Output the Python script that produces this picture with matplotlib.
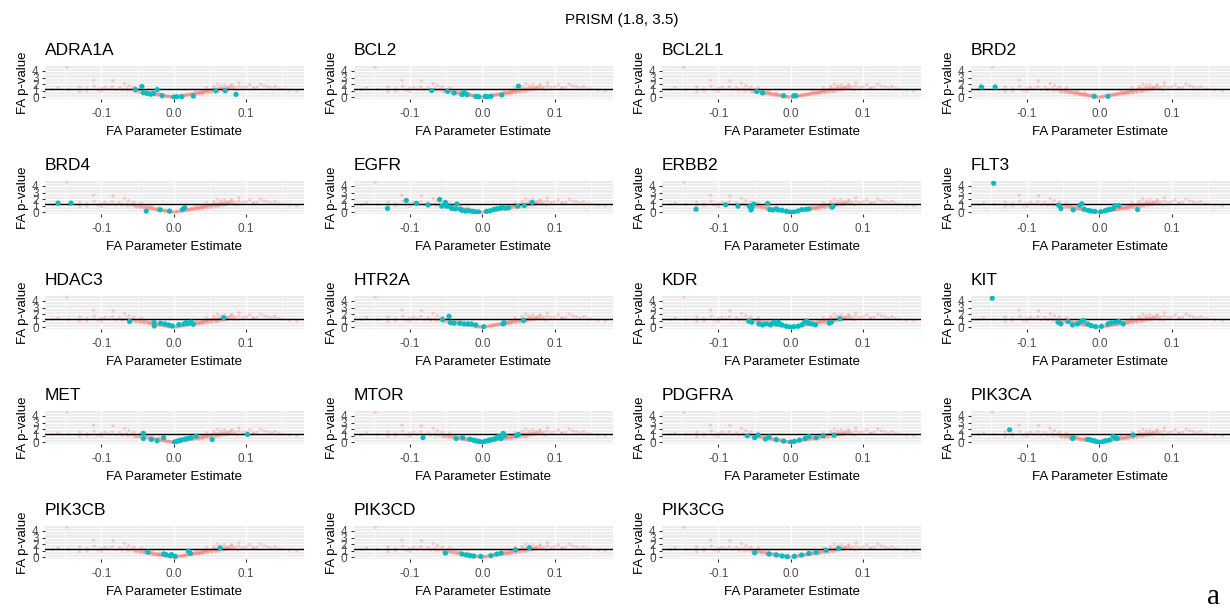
import matplotlib
matplotlib.use('Agg')
import matplotlib.pyplot as plt
from matplotlib.ticker import MultipleLocator

plt.rcParams['font.family'] = ['Liberation Sans', 'DejaVu Sans']

# background cloud (all compounds)
red_x = [-0.060, -0.058, -0.055, -0.053, -0.050, -0.048, -0.046, -0.045, -0.043, -0.042,
         -0.040, -0.039, -0.037, -0.036, -0.035, -0.033, -0.032, -0.031, -0.030, -0.028,
         -0.027, -0.026, -0.025, -0.023, -0.022, -0.021, -0.020, -0.018, -0.017, -0.016,
         -0.015, -0.013, -0.012, -0.011, -0.010, -0.008, -0.007, -0.006, -0.005, -0.003,
         -0.002, 0.000, 0.002, 0.003, 0.005, 0.006, 0.008, 0.009, 0.010, 0.012,
         0.013, 0.014, 0.016, 0.017, 0.018, 0.020, 0.021, 0.022, 0.024, 0.025,
         0.026, 0.028, 0.029, 0.030, 0.032, 0.033, 0.034, 0.036, 0.037, 0.038,
         0.040, 0.041, 0.042, 0.044, 0.045, 0.046, 0.048, 0.050, 0.051, 0.053,
         0.055, 0.056, 0.058, 0.060, 0.062, 0.064, 0.066, 0.068, 0.070, 0.072,
         0.075, 0.078,
         -0.020, -0.030, -0.045, -0.055, -0.065, -0.070, -0.075, -0.080, -0.085, -0.090,
         -0.095, -0.100, -0.105, -0.110, -0.120, -0.130, -0.145, -0.160, -0.148, -0.111,
         -0.084, -0.167, -0.130, -0.120, -0.100, -0.068, -0.062,
         0.030, 0.045, 0.055, 0.065, 0.070, 0.075, 0.080, 0.085, 0.090, 0.095,
         0.100, 0.105, 0.110, 0.115, 0.125, 0.135, 0.140, 0.150, 0.160, 0.170,
         0.120, 0.130, 0.090, 0.060, 0.080, 0.110, 0.145, 0.052, 0.047, 0.062,
         0.035, 0.040, 0.058, 0.068, 0.073, 0.083, 0.088,
         -0.052, -0.047, -0.041, -0.034, -0.029, -0.024, -0.019, -0.014, -0.009, -0.004,
         0.004, 0.011, 0.015, 0.019, 0.023, 0.027, 0.031, 0.035, 0.039, 0.043,
         0.047, 0.052, 0.057, 0.061, 0.065, 0.071, 0.076, 0.081, -0.064, -0.072]
red_y = [1.10, 1.25, 0.95, 1.05, 0.90, 1.15, 0.85, 1.00, 0.80, 0.95,
         0.75, 0.90, 0.70, 0.85, 0.65, 0.75, 0.60, 0.70, 0.55, 0.62,
         0.50, 0.58, 0.45, 0.52, 0.40, 0.48, 0.36, 0.42, 0.32, 0.38,
         0.28, 0.30, 0.22, 0.26, 0.18, 0.20, 0.14, 0.16, 0.10, 0.08,
         0.05, 0.03, 0.06, 0.09, 0.12, 0.15, 0.18, 0.22, 0.20, 0.26,
         0.28, 0.32, 0.35, 0.38, 0.36, 0.44, 0.42, 0.50, 0.48, 0.55,
         0.52, 0.60, 0.58, 0.66, 0.64, 0.70, 0.75, 0.72, 0.80, 0.85,
         0.82, 0.90, 0.95, 0.92, 1.00, 1.05, 1.10, 1.02, 1.15, 1.20,
         1.10, 1.25, 1.30, 1.20, 1.35, 1.28, 1.40, 1.32, 1.45, 1.38,
         1.50, 1.42,
         0.70, 0.95, 1.40, 1.55, 1.30, 1.20, 1.45, 1.15, 1.60, 1.25,
         1.50, 1.35, 1.10, 1.70, 1.30, 1.55, 1.20, 1.40, 4.55, 2.60,
         2.50, 1.20, 0.90, 1.00, 0.90, 2.10, 1.80,
         1.00, 1.45, 1.65, 1.75, 1.90, 1.60, 1.80, 1.55, 1.70, 1.45,
         1.60, 1.90, 1.35, 1.50, 1.75, 1.40, 1.65, 1.25, 1.10, 1.00,
         2.00, 1.60, 2.20, 2.00, 1.85, 1.40, 1.30, 0.75, 0.70, 0.95,
         0.55, 0.60, 0.85, 1.05, 1.15, 1.25, 1.10,
         0.80, 0.72, 0.62, 0.50, 0.44, 0.34, 0.26, 0.20, 0.12, 0.06,
         0.07, 0.15, 0.22, 0.30, 0.36, 0.42, 0.50, 0.56, 0.62, 0.70,
         0.78, 0.86, 0.95, 1.02, 1.10, 1.20, 1.28, 1.35, 1.00, 1.10]

genes = ['ADRA1A', 'BCL2', 'BCL2L1', 'BRD2', 'BRD4', 'EGFR', 'ERBB2', 'FLT3',
         'HDAC3', 'HTR2A', 'KDR', 'KIT', 'MET', 'MTOR', 'PDGFRA', 'PIK3CA',
         'PIK3CB', 'PIK3CD', 'PIK3CG']

# target compounds per gene: (estimate, -log10 p)
adra1a_x = [-0.053, -0.044, -0.042, -0.037, -0.032, -0.028, -0.023, -0.016, 0.000, 0.004, 0.011, 0.027, 0.058, 0.071, 0.086]
adra1a_y = [1.18, 1.65, 0.71, 0.59, 0.47, 0.59, 1.18, 0.25, 0.05, 0.10, 0.10, 0.20, 1.00, 1.00, 0.45]
bcl2_x = [-0.070, -0.048, -0.039, -0.028, -0.025, -0.021, -0.009, -0.005, 0.004, 0.007, 0.012, 0.027, 0.050]
bcl2_y = [1.03, 0.92, 0.67, 0.41, 0.77, 0.41, 0.15, 0.10, 0.15, 0.10, 0.15, 0.36, 1.69]
bcl2l1_x = [-0.047, -0.039, -0.010, 0.004, 0.007]
bcl2l1_y = [0.90, 0.67, 0.24, 0.24, 0.24]
brd2_x = [-0.163, -0.144, -0.007, 0.012]
brd2_y = [1.58, 1.58, 0.16, 0.16]
brd4_x = [-0.160, -0.142, -0.038, -0.019, -0.006, 0.012, 0.015]
brd4_y = [1.40, 1.40, 0.19, 0.39, 0.19, 0.43, 0.72]
egfr_x = [-0.131, -0.105, -0.091, -0.075, -0.059, -0.051, -0.056, -0.049, -0.044, -0.035,
          -0.042, -0.037, -0.030, -0.028, -0.023, -0.019, -0.014, -0.010, -0.005, 0.006,
          0.011, 0.016, 0.020, 0.025, 0.027, 0.032, 0.036, 0.049, 0.058, 0.069]
egfr_y = [0.59, 1.80, 1.37, 1.12, 1.95, 1.51, 0.93, 0.93, 0.83, 1.27,
          0.59, 0.54, 0.44, 0.29, 0.20, 0.24, 0.15, 0.10, 0.05, 0.15,
          0.24, 0.44, 0.54, 0.63, 0.78, 0.63, 0.68, 0.93, 1.02, 1.51]
erbb2_x = [-0.131, -0.090, -0.073, -0.057, -0.054, -0.051, -0.055, -0.032, -0.029, -0.025,
           -0.020, -0.017, -0.012, -0.006, -0.001, 0.004, 0.010, 0.015, 0.021, 0.025,
           0.058, 0.057]
erbb2_y = [0.47, 1.14, 0.93, 0.88, 0.62, 1.24, 0.36, 1.35, 0.41, 0.36,
           0.52, 0.36, 0.31, 0.16, 0.05, 0.05, 0.21, 0.41, 0.47, 0.52,
           0.88, 0.78]
flt3_x = [-0.146, -0.056, -0.053, -0.036, -0.027, -0.024, -0.021, -0.015, -0.011, -0.006,
          0.002, 0.008, 0.011, 0.015, 0.019, 0.022, 0.027, 0.053]
flt3_y = [4.40, 1.07, 0.56, 0.37, 1.07, 1.30, 0.47, 0.28, 0.19, 0.14,
          0.09, 0.23, 0.37, 0.47, 0.56, 1.02, 1.02, 0.42]
hdac3_x = [-0.061, -0.027, -0.027, -0.018, -0.012, -0.007, -0.002, 0.007, 0.014, 0.017, 0.020, 0.024, 0.027, 0.069]
hdac3_y = [0.89, 0.73, 0.21, 0.63, 0.52, 0.36, 0.21, 0.42, 0.52, 0.73, 0.63, 0.78, 0.47, 1.46]
htr2a_x = [-0.055, -0.046, -0.044, -0.039, -0.031, -0.025, -0.020, -0.015, -0.009, 0.002, 0.029, 0.030, 0.057]
htr2a_y = [1.20, 1.67, 0.73, 0.63, 0.63, 0.52, 0.52, 0.52, 0.36, 0.10, 0.52, 0.73, 1.04]
kdr_x = [-0.058, -0.054, -0.044, -0.039, -0.034, -0.028, -0.025, -0.020, -0.017, -0.012,
         -0.006, -0.001, 0.004, 0.010, 0.015, 0.019, 0.022, 0.025, 0.029, 0.034,
         0.053, 0.056, 0.068, -0.023, -0.015]
kdr_y = [0.94, 0.78, 0.52, 0.36, 0.52, 0.36, 0.63, 0.52, 0.78, 0.36,
         0.16, 0.05, 0.10, 0.16, 0.36, 0.78, 0.94, 0.63, 0.52, 0.36,
         0.63, 0.78, 1.30, 0.78, 0.47]
kit_x = [-0.148, -0.057, -0.053, -0.043, -0.037, -0.030, -0.025, -0.022, -0.016, -0.011,
         -0.005, 0.003, 0.012, 0.016, 0.022, 0.027, 0.033]
kit_y = [4.40, 0.78, 0.52, 0.89, 0.36, 0.52, 0.89, 1.04, 0.52, 0.26,
         0.10, 0.16, 0.52, 0.68, 0.78, 0.89, 0.52]
met_x = [-0.042, -0.042, -0.031, -0.023, -0.014, 0.001, 0.007, 0.010, 0.015, 0.019, 0.024, 0.031, 0.053, 0.102, 0.004]
met_y = [1.35, 0.58, 0.43, 0.24, 0.72, 0.05, 0.24, 0.34, 0.48, 0.58, 0.72, 0.96, 0.43, 1.20, 0.14]
mtor_x = [-0.082, -0.036, -0.027, -0.017, -0.012, -0.009, -0.005, -0.002, 0.003, 0.007,
          0.010, 0.012, 0.016, 0.019, 0.023, 0.026, 0.029, 0.031, 0.047, 0.050, 0.023]
mtor_y = [0.72, 0.58, 0.72, 0.48, 0.34, 0.24, 0.14, 0.05, 0.14, 0.24,
          0.34, 0.38, 0.48, 0.63, 0.72, 0.58, 1.35, 1.06, 1.06, 1.20, 0.91]
pdgfra_x = [-0.060, -0.050, -0.045, -0.035, -0.030, -0.020, -0.010, 0.000, 0.005, 0.012, 0.020, 0.025, 0.035, 0.045, 0.060]
pdgfra_y = [1.00, 0.70, 1.10, 0.50, 0.80, 0.40, 0.20, 0.05, 0.15, 0.35, 0.60, 0.90, 0.70, 1.00, 1.10]
pik3ca_x = [-0.124, -0.037, -0.036, -0.016, -0.011, -0.007, -0.004, 0.000, 0.005, 0.009, 0.014, 0.019, 0.022, 0.025, 0.047, -0.014]
pik3ca_y = [1.90, 0.59, 0.73, 0.44, 0.34, 0.24, 0.10, 0.02, 0.10, 0.24, 0.34, 0.93, 0.68, 0.59, 1.12, 0.44]
pik3cb_x = [-0.036, -0.014, -0.011, -0.005, -0.003, 0.002, 0.020, 0.023, 0.064]
pik3cb_y = [0.79, 0.53, 0.42, 0.26, 0.42, 0.16, 0.95, 0.63, 1.42]
pik3cd_x = [-0.051, -0.028, -0.022, -0.017, -0.012, -0.002, 0.012, 0.020, 0.026, 0.046, 0.065]
pik3cd_y = [0.65, 0.50, 0.35, 0.25, 0.20, 0.15, 0.25, 0.50, 0.65, 1.15, 1.45]
pik3cg_x = [-0.050, -0.030, -0.020, -0.012, -0.005, 0.005, 0.015, 0.025, 0.035, 0.049, 0.066]
pik3cg_y = [0.70, 0.50, 0.35, 0.20, 0.10, 0.15, 0.35, 0.60, 0.75, 1.10, 1.35]

target_x = [adra1a_x, bcl2_x, bcl2l1_x, brd2_x, brd4_x, egfr_x, erbb2_x, flt3_x, hdac3_x, htr2a_x,
            kdr_x, kit_x, met_x, mtor_x, pdgfra_x, pik3ca_x, pik3cb_x, pik3cd_x, pik3cg_x]
target_y = [adra1a_y, bcl2_y, bcl2l1_y, brd2_y, brd4_y, egfr_y, erbb2_y, flt3_y, hdac3_y, htr2a_y,
            kdr_y, kit_y, met_y, mtor_y, pdgfra_y, pik3ca_y, pik3cb_y, pik3cd_y, pik3cg_y]

sig_line = 1.3

W, H = 1230, 609
fig = plt.figure(figsize=(W / 100, H / 100), dpi=100)
col_left = [45, 353.5, 662, 970.5]
row_top = [66, 181, 296, 411, 526]
pw, ph = 259, 33

for i, g in enumerate(genes):
    r, c = divmod(i, 4)
    ax = fig.add_axes([col_left[c] / W, 1 - (row_top[r] + ph) / H, pw / W, ph / H])
    ax.set_facecolor('#EBEBEB')
    for s in ax.spines.values():
        s.set_visible(False)
    ax.set_xlim(-0.178, 0.180)
    ax.set_ylim(-0.25, 4.75)
    ax.xaxis.set_major_locator(MultipleLocator(0.1))
    ax.xaxis.set_minor_locator(MultipleLocator(0.05))
    ax.yaxis.set_major_locator(MultipleLocator(1))
    ax.yaxis.set_minor_locator(MultipleLocator(0.5))
    ax.grid(which='major', color='white', lw=1.0)
    ax.grid(which='minor', color='white', lw=0.5)
    ax.set_axisbelow(True)
    ax.tick_params(which='minor', length=0)
    ax.tick_params(which='major', length=2.5, width=0.8, color='#333333',
                   labelsize=8.5, labelcolor='#4D4D4D', pad=2)
    ax.tick_params(axis='x', pad=4)
    ax.set_yticks([0, 1, 2, 3, 4])
    ax.set_xticks([-0.1, 0.0, 0.1])
    ax.set_xticklabels(['-0.1', '0.0', '0.1'])

    ax.scatter(red_x, red_y, s=6, color='#F8766D', alpha=0.3, edgecolors='none')
    ax.scatter(target_x[i], target_y[i], s=14, color='#00BFC4', edgecolors='none', zorder=3)
    ax.axhline(sig_line, color='black', lw=1.0, zorder=2)

    ax.set_xlabel('FA Parameter Estimate', fontsize=9.5, labelpad=4)
    ax.set_ylabel('FA p-value', fontsize=9.5, labelpad=2)
    ax.set_title(g, loc='left', fontsize=12.5, pad=8)

fig.text(622 / W, 1 - 20 / H, 'PRISM (1.8, 3.5)', ha='center', va='center', fontsize=11)
fig.text(1213 / W, 1 - 604 / H, 'a', ha='center', va='baseline', fontsize=21,
         family=['Liberation Serif', 'DejaVu Serif'])

fig.savefig('out.png', dpi=100)
